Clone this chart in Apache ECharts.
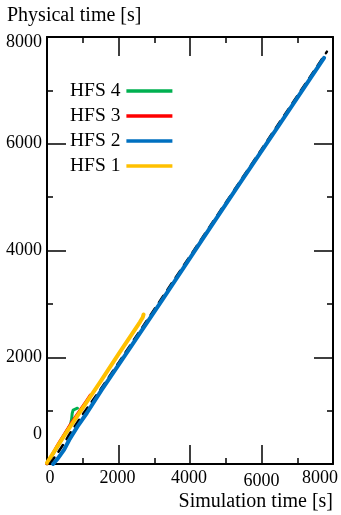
<!DOCTYPE html>
<html>
<head>
<meta charset="utf-8">
<script src="https://cdn.jsdelivr.net/npm/echarts@6/dist/echarts.min.js"></script>
<style>html,body{margin:0;padding:0;background:#fff;}#c{width:341px;height:515px;}</style>
</head>
<body>
<div id="c"></div>
<script>
// Tick values
var xTicks = [0, 2000, 4000, 6000, 8000];
var yTicks = [0, 2000, 4000, 6000, 8000];
var legendNames = ['HFS 4', 'HFS 3', 'HFS 2', 'HFS 1'];

// Series data [simulation time, physical time]
var hfs4 = [[0,0],[350,390],[660,740],[690,850],[705,950],[730,1010],[770,1040],[850,1045]];
var hfs3 = [[0,0],[300,360],[700,790],[1100,1180],[1210,1290]];
var hfs1 = [[0,20],[500,550],[1000,1050],[1500,1550],[2000,2060],[2600,2660],[2680,2750],[2700,2800]];
var reference = [[80,0],[300,210],[500,410],[620,550],[1000,930],[1500,1400],[2000,1895],[3000,2895],[4000,3895],[5000,4895],[6000,5895],[7000,6895],[7830,7725]];
var hfs2 = [[170,0],[300,100],[480,270],[620,450],[850,700],[1120,960],[1520,1380],[2300,2150],[3230,3080],[4300,4160],[5420,5285],[6500,6360],[7750,7610]];

var FONT = "'Liberation Serif', 'Times New Roman', serif";
var chart = echarts.init(document.getElementById('c'), null, {renderer: 'canvas'});

function axisBase(pos, showLabel) {
  return {
    type: 'value', min: 0, max: 8000, interval: 2000, position: pos,
    axisLine: {show: true, onZero: false, lineStyle: {color: '#000', width: 2}},
    axisTick: {show: true, inside: true, length: 19, lineStyle: {color: '#000', width: 1.5}},
    minorTick: {show: true, splitNumber: 2, length: 6, lineStyle: {color: '#000', width: 1.5}},
    splitLine: {show: false},
    minorSplitLine: {show: false},
    axisLabel: {show: showLabel}
  };
}

var xBottom = axisBase('bottom', true);
xBottom.axisLabel = {
  show: true, margin: 5, color: '#000', fontFamily: FONT, fontSize: 18,
  customValues: xTicks,
  formatter: function (v) {
    if (v === 0) return '{z|0}';
    if (v === 6000) return '{s|6000}';
    if (v === 8000) return '{e|8000}';
    return '{n|' + v + '}';
  },
  rich: {
    z: {fontFamily: FONT, fontSize: 18, color: '#000', padding: [0, 0, 0, 6]},
    s: {fontFamily: FONT, fontSize: 18, color: '#000', padding: [3, 0, 0, 0]},
    e: {fontFamily: FONT, fontSize: 18, color: '#000', padding: [0, 26, 0, 0]},
    n: {fontFamily: FONT, fontSize: 18, color: '#000', padding: [0, 2, 0, 0]}
  }
};
var xTop = axisBase('top', false);
var yLeft = axisBase('left', true);
yLeft.axisLabel = {
  show: true, margin: 5, color: '#000', fontFamily: FONT, fontSize: 18,
  customValues: yTicks,
  formatter: function (v) {
    if (v === 0) return '{z|0}';
    if (v === 8000) return '{t|8000}';
    return '{n|' + v + '}';
  },
  rich: {
    z: {fontFamily: FONT, fontSize: 18, color: '#000', padding: [0, 0, 60, 0]},
    t: {fontFamily: FONT, fontSize: 18, color: '#000', padding: [10, 0, 0, 0]},
    n: {fontFamily: FONT, fontSize: 18, color: '#000'}
  }
};
var yRight = axisBase('right', false);

function lineSeries(name, data, color, width, z, dashed) {
  return {
    name: name, type: 'line', data: data, showSymbol: false, symbol: 'none',
    xAxisIndex: 0, yAxisIndex: 0, z: z, silent: true, animation: false,
    lineStyle: {color: color, width: width, type: dashed ? [8, 7] : 'solid', cap: 'round', join: 'round'},
    itemStyle: {color: color}
  };
}

chart.setOption({
  animation: false,
  backgroundColor: '#fff',
  title: [
    {text: 'Physical time [s]', left: 2, top: 1, textStyle: {fontFamily: FONT, fontSize: 20, fontWeight: 'normal', color: '#000'}},
    {text: 'Simulation time [s]', right: 3, bottom: -2, textStyle: {fontFamily: FONT, fontSize: 20, fontWeight: 'normal', color: '#000'}}
  ],
  grid: {left: 47, right: 8, top: 37, bottom: 51, containLabel: false},
  xAxis: [xBottom, xTop],
  yAxis: [yLeft, yRight],
  legend: {
    data: legendNames, orient: 'vertical', align: 'right', left: 65, top: 76,
    icon: 'rect', itemWidth: 46, itemHeight: 3.5, itemGap: 5,
    textStyle: {fontFamily: FONT, fontSize: 19.5, color: '#000', padding: [0, 1, 0, 0]},
    selectedMode: false
  },
  series: [
    lineSeries('HFS 4', hfs4, '#00b050', 3, 2),
    lineSeries('HFS 3', hfs3, '#ff0000', 3, 3),
    lineSeries('HFS 1', hfs1, '#ffc000', 4, 4),
    lineSeries('reference', reference, '#000000', 2.5, 5, true),
    lineSeries('HFS 2', hfs2, '#0070c0', 4, 6)
  ]
});
</script>
</body>
</html>
